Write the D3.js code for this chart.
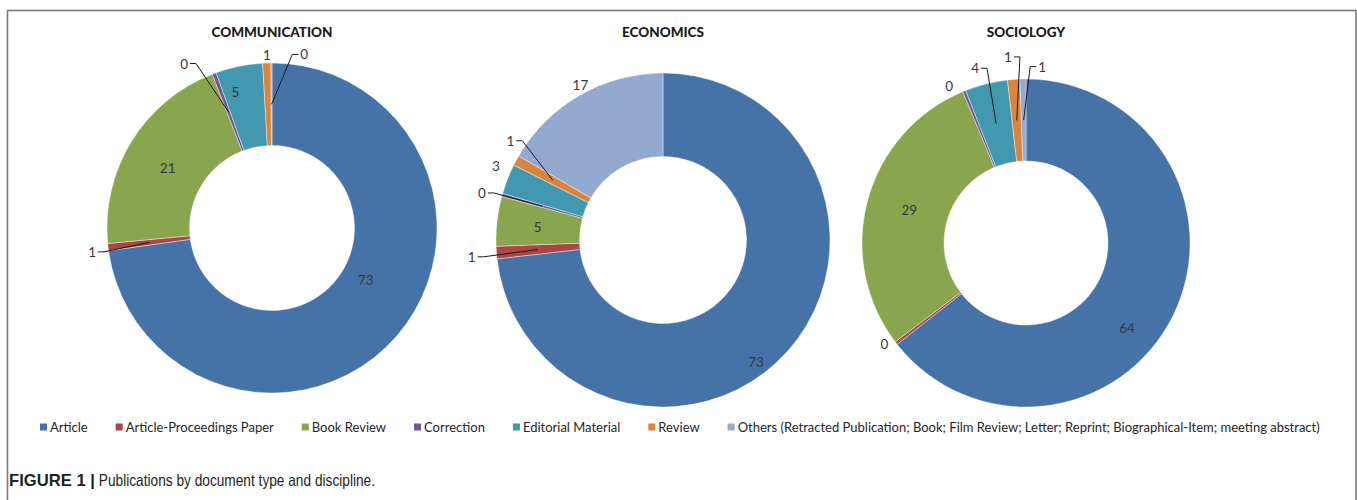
<!DOCTYPE html>
<html>
<head>
<meta charset="utf-8">
<script src="https://cdn.jsdelivr.net/npm/d3@7"></script>
<style>
  html, body { margin: 0; padding: 0; background: #fff; }
  svg { display: block; }
</style>
</head>
<body>
<svg id="chart" width="1357" height="500"></svg>
<script>
// ---------- DATA ----------
const disciplines = ["COMMUNICATION", "ECONOMICS", "SOCIOLOGY"];
const docTypes = ["Article", "Article-Proceedings Paper", "Book Review", "Correction",
  "Editorial Material", "Review",
  "Others (Retracted Publication; Book; Film Review; Letter; Reprint; Biographical-Item; meeting abstract)"];
// percentage of publications per document type (labels show rounded values)
const communication = [72.8, 0.7, 20.6, 0.4, 4.6, 0.8, 0.1];
const economics     = [73.2, 1.2, 4.8, 0.3, 2.9, 1.0, 16.6];
const sociology     = [64.4, 0.3, 29.0, 0.3, 4.2, 1.2, 0.6];
const seriesValues = [communication, economics, sociology];
const captionBold = "FIGURE 1 |";
const captionText = " Publications by document type and discipline.";

// ---------- STYLE / LAYOUT ----------
const colors = ["#4572A7", "#AA4643", "#89A54E", "#71588F", "#4198AF", "#DB843D", "#93A9CF"];
const pieLayout = [
  { cx: 272, cy: 228, R: 165 },
  { cx: 663, cy: 240, R: 167 },
  { cx: 1026, cy: 243, R: 164 }
];
const innerRatio = 0.5;
// per label: [angle shift from slice middle (deg), radius as fraction of R, leader line]
const labelPlacement = [
  [[-12, 0.65, 0], [-0.9, 1.10, 1], [-1.7, 0.73, 0], [-7.6, 1.13, 1], [-3.5, 0.855, 0], [0.1, 1.05, 0], [10.7, 1.07, 1]],
  [[11, 0.92, 0], [-0.7, 1.15, 1], [-0.5, 0.755, 0], [-1.1, 1.12, 1], [2.6, 1.096, 0], [4.6, 1.09, 1], [1.9, 1.054, 0]],
  [[14.1, 0.805, 0], [2.1, 1.06, 0], [0.9, 0.74, 0], [-3.9, 1.067, 0], [-2.2, 1.11, 1], [-1.2, 1.14, 1], [6.3, 1.08, 1]]
];

const svg = d3.select("#chart");
const fmt = d3.format(".0f");
const color = d3.scaleOrdinal().domain(docTypes).range(colors);

// frame
svg.append("rect")
  .attr("x", 7.5).attr("y", 10.5)
  .attr("width", 1348.5).attr("height", 520)
  .attr("fill", "none").attr("stroke", "#7a7a7a").attr("stroke-width", 1.6);

const pie = d3.pie().sort(null).value(d => d.value);

disciplines.forEach((disc, i) => {
  const L = pieLayout[i];
  const g = svg.append("g").attr("transform", `translate(${L.cx},${L.cy})`);
  const data = docTypes.map((t, k) => ({ type: t, value: seriesValues[i][k] }));
  const arcs = pie(data);
  const arc = d3.arc().innerRadius(L.R * innerRatio).outerRadius(L.R);

  g.selectAll("path.slice").data(arcs).join("path")
    .attr("class", "slice")
    .attr("d", arc)
    .attr("fill", d => color(d.data.type))
    .attr("stroke", "#ffffff").attr("stroke-width", 0.4);

  // title
  svg.append("text")
    .attr("x", L.cx).attr("y", 37)
    .attr("text-anchor", "middle")
    .attr("font-family", "Lato, 'Open Sans', sans-serif")
    .attr("font-weight", "900").attr("font-size", 13.5)
    .attr("fill", "#1a1a1a")
    .text(disc);

  // labels
  arcs.forEach((d, k) => {
    const [dA, rf, leader] = labelPlacement[i][k];
    const mid = (d.startAngle + d.endAngle) / 2;
    const a = mid + dA * Math.PI / 180;
    const lx = Math.sin(a) * L.R * rf;
    const ly = -Math.cos(a) * L.R * rf;
    const t = g.append("text")
      .attr("x", lx).attr("y", ly)
      .attr("text-anchor", "middle").attr("dominant-baseline", "central")
      .attr("font-family", "Lato, 'Open Sans', sans-serif")
      .attr("font-size", 13.5).attr("fill", "#383838")
      .text(fmt(d.data.value));
    if (leader) {
      const w = t.node().getComputedTextLength();
      const c = d3.arc().innerRadius(L.R * innerRatio).outerRadius(L.R).centroid(d);
      const side = c[0] > lx ? 1 : -1;
      const sx = lx + side * (w / 2 + 2);
      const ex = sx + side * 6;
      g.append("path")
        .attr("d", `M${sx},${ly}L${ex},${ly}L${c[0]},${c[1]}`)
        .attr("fill", "none").attr("stroke", "#1a1a1a").attr("stroke-width", 1);
    }
  });
});

// legend
const legend = svg.append("g").attr("transform", "translate(40,427)");
let xCursor = 0;
docTypes.forEach((t) => {
  const item = legend.append("g").attr("transform", `translate(${xCursor},0)`);
  item.append("rect").attr("x", 0).attr("y", -3.5).attr("width", 7).attr("height", 7).attr("fill", color(t));
  const tx = item.append("text").attr("x", 10).attr("y", 0)
    .attr("dominant-baseline", "central")
    .attr("font-family", "Lato, 'Open Sans', sans-serif")
    .attr("font-size", 13).attr("fill", "#262626")
    .text(t);
  xCursor += 10 + tx.node().getComputedTextLength() + 28;
});

// caption
const cap = svg.append("text").attr("x", 9).attr("y", 486)
  .attr("font-family", "'Liberation Sans', Arial, sans-serif")
  .attr("font-size", 16.5).attr("fill", "#231f20");
cap.append("tspan").attr("font-weight", "bold")
  .attr("textLength", 86).attr("lengthAdjust", "spacingAndGlyphs").text(captionBold);
cap.append("tspan")
  .attr("textLength", 280).attr("lengthAdjust", "spacingAndGlyphs").text(captionText);
</script>
</body>
</html>
